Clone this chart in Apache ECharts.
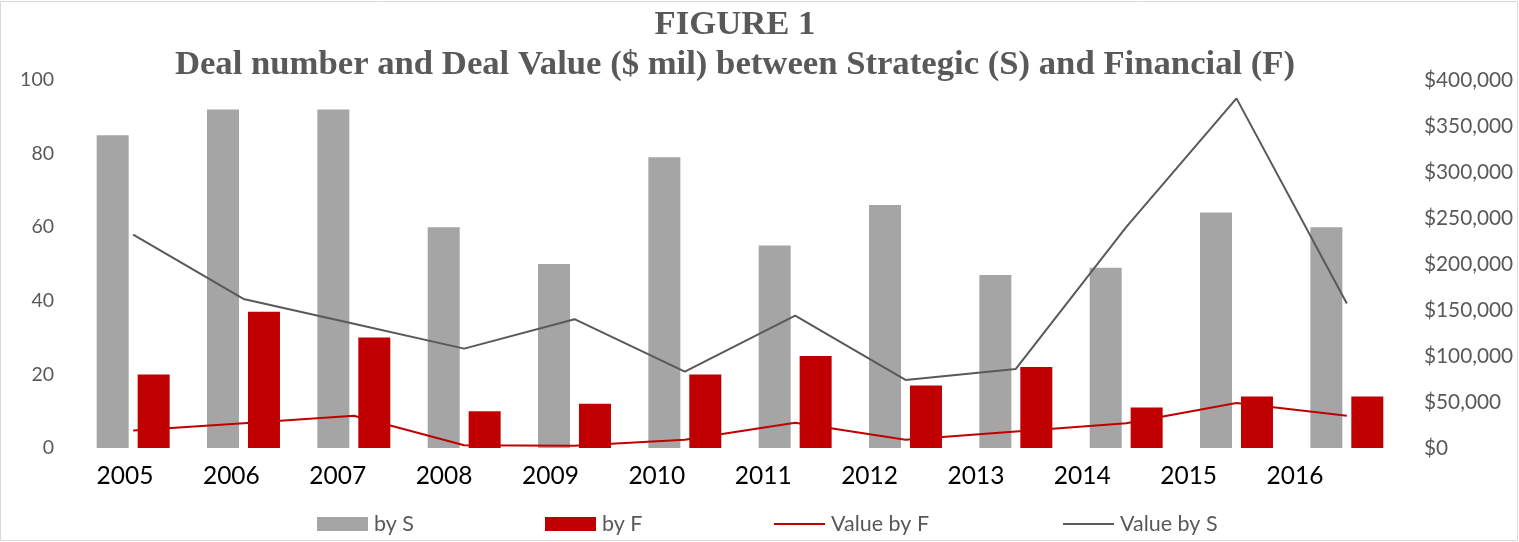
<!DOCTYPE html>
<html>
<head>
<meta charset="utf-8">
<script src="https://cdn.jsdelivr.net/npm/echarts@6/dist/echarts.min.js"></script>
<style>
html,body{margin:0;padding:0;background:#fff;}
#chart{width:1519px;height:542px;}
</style>
</head>
<body>
<div id="chart"></div>
<script>
const years = ['2005','2006','2007','2008','2009','2010','2011','2012','2013','2014','2015','2016'];
const countS = [85, 92, 92, 60, 50, 79, 55, 66, 47, 49, 64, 60];
const countF = [20, 37, 30, 10, 12, 20, 25, 17, 22, 11, 14, 14];
const valueF = [19000, 27000, 35000, 3000, 2500, 9000, 27500, 9000, 18000, 27000, 49000, 35000];
const valueS = [232000, 162000, 135000, 108000, 140000, 83000, 144000, 74000, 86000, 240000, 380000, 157000];
const titleLines = ['FIGURE 1', 'Deal number and Deal Value ($ mil) between Strategic (S) and Financial (F)'];
const seriesNames = ['by S', 'by F', 'Value by F', 'Value by S'];

const chart = echarts.init(document.getElementById('chart'), null, {renderer: 'canvas'});
const labelFont = 'Lato';
const legendLefts = [317, 545, 773, 1062];

function makeLegend(i) {
  const isLine = i >= 2;
  const lg = {
    data: [isLine ? {name: seriesNames[i]} : {name: seriesNames[i], icon: 'rect'}],
    left: legendLefts[i],
    top: 513,
    padding: 0,
    itemWidth: 51,
    itemHeight: 14,
    itemGap: 0,
    textStyle: {fontFamily: labelFont, fontSize: 21.5, color: '#595959', padding: [0, 0, 0, 1]}
  };
  if (isLine) lg.itemStyle = {opacity: 0};
  return lg;
}

const option = {
  animation: false,
  backgroundColor: '#ffffff',
  title: {
    text: titleLines.join('\n'),
    left: 735,
    top: 5,
    padding: 0,
    textAlign: 'center',
    textStyle: {
      fontFamily: 'Liberation Serif',
      fontWeight: 'bold',
      fontSize: 34.7,
      lineHeight: 40,
      color: '#595959'
    }
  },
  graphic: [{
    type: 'rect',
    shape: {x: 0.5, y: 1.5, width: 1517, height: 539},
    style: {fill: 'none', stroke: '#d9d9d9', lineWidth: 1},
    silent: true,
    z: -1
  }],
  legend: [0, 1, 2, 3].map(makeLegend),
  grid: [
    {left: 78, right: 117, top: 80, bottom: 94, containLabel: false},
    {left: 71.8, right: 170.8, top: 80, bottom: 94, containLabel: false}
  ],
  xAxis: [
    {
      type: 'category', data: years, gridIndex: 0,
      axisLine: {show: false}, axisTick: {show: false}, axisLabel: {show: false}
    },
    {
      type: 'category', data: years, gridIndex: 1,
      axisLine: {show: false}, axisTick: {show: false},
      axisLabel: {show: true, fontFamily: labelFont, fontSize: 24.5, color: '#000000', margin: 16}
    }
  ],
  yAxis: [
    {
      type: 'value', gridIndex: 0, min: 0, max: 100, interval: 20,
      axisLine: {show: false}, axisTick: {show: false}, splitLine: {show: false},
      axisLabel: {fontFamily: labelFont, fontSize: 19.5, color: '#595959', margin: 24}
    },
    {
      type: 'value', gridIndex: 0, min: 0, max: 400000, interval: 50000, position: 'right',
      axisLine: {show: false}, axisTick: {show: false}, splitLine: {show: false},
      axisLabel: {
        fontFamily: labelFont, fontSize: 20.8, color: '#595959', margin: 22,
        formatter: v => '$' + v.toLocaleString('en-US')
      }
    },
    {
      type: 'value', gridIndex: 1, show: false, min: 0, max: 100
    }
  ],
  series: [
    {
      name: seriesNames[0], type: 'bar', data: countS, xAxisIndex: 0, yAxisIndex: 0,
      barWidth: 32, barGap: '28%',
      itemStyle: {color: '#A5A5A5'}
    },
    {
      name: seriesNames[1], type: 'bar', data: countF, xAxisIndex: 0, yAxisIndex: 0,
      barWidth: 32, barGap: '28%',
      itemStyle: {color: '#C00000'}
    },
    {
      name: seriesNames[2], type: 'line', data: valueF, xAxisIndex: 0, yAxisIndex: 1,
      symbol: 'none', lineStyle: {color: '#C00000', width: 2}, itemStyle: {color: '#C00000'}, z: 3
    },
    {
      name: seriesNames[3], type: 'line', data: valueS, xAxisIndex: 0, yAxisIndex: 1,
      symbol: 'none', lineStyle: {color: '#595959', width: 2}, itemStyle: {color: '#595959'}, z: 3
    }
  ]
};
chart.setOption(option);
</script>
</body>
</html>
